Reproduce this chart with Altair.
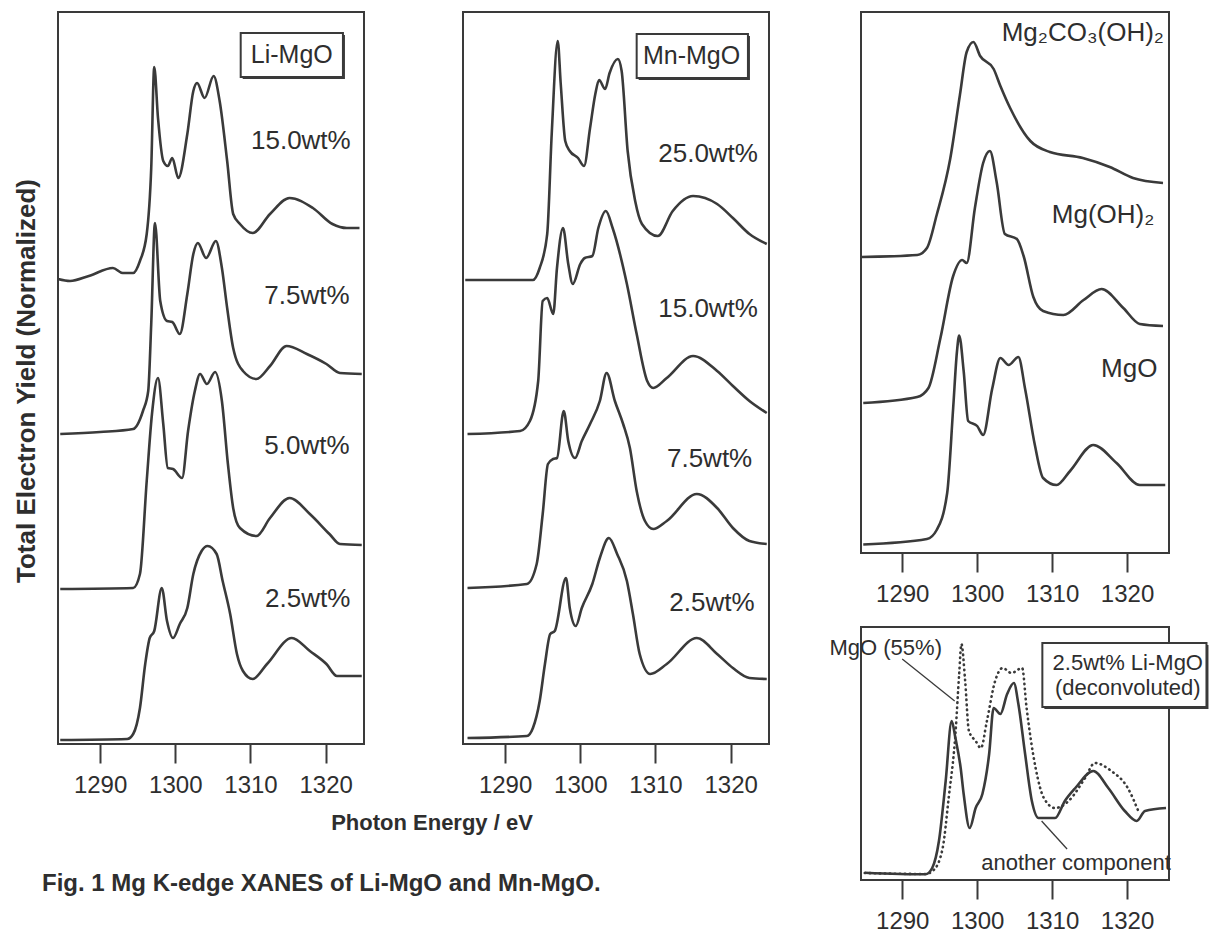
import altair as alt
import pandas as pd

# ---------------- data ----------------
TICKS = [1290, 1300, 1310, 1320]

# Li-MgO panel (intensity in arbitrary units, curves stacked as drawn)
LI150_E = [1284.4, 1286.0, 1288.5, 1291.7, 1293.0, 1294.4, 1295.3, 1296.2, 1296.8, 1297.2, 1297.7, 1298.4, 1299.0, 1299.6, 1300.4, 1301.6, 1302.4, 1302.9, 1303.9, 1305.1, 1305.9, 1306.9, 1307.7, 1308.6, 1310.3, 1312.6, 1315.2, 1318.3, 1320.9, 1322.8, 1324.5]
LI150_I = [4.65, 4.63, 4.68, 4.76, 4.71, 4.71, 4.83, 5.10, 5.76, 6.77, 6.26, 5.83, 5.78, 5.86, 5.66, 6.10, 6.53, 6.61, 6.46, 6.68, 6.43, 5.83, 5.30, 5.20, 5.11, 5.30, 5.46, 5.36, 5.20, 5.16, 5.16]
LI75_E = [1284.7, 1290.0, 1294.4, 1295.7, 1296.4, 1296.8, 1297.3, 1298.0, 1298.9, 1299.6, 1300.6, 1301.6, 1302.4, 1303.0, 1304.1, 1305.4, 1306.2, 1306.9, 1307.7, 1309.0, 1310.8, 1312.6, 1314.8, 1317.5, 1320.1, 1321.9, 1324.8]
LI75_I = [3.10, 3.12, 3.15, 3.33, 3.53, 4.20, 5.21, 4.43, 4.23, 4.22, 4.10, 4.50, 4.90, 5.01, 4.86, 5.03, 4.76, 4.36, 3.96, 3.73, 3.65, 3.78, 3.98, 3.90, 3.80, 3.71, 3.70]
LI50_E = [1284.7, 1294.4, 1295.3, 1296.2, 1296.9, 1297.7, 1298.4, 1299.0, 1299.7, 1300.9, 1301.7, 1302.6, 1303.3, 1304.2, 1305.3, 1306.2, 1307.0, 1307.7, 1308.6, 1310.8, 1312.6, 1315.2, 1317.9, 1320.5, 1321.9, 1324.8]
LI50_I = [1.55, 1.56, 1.70, 2.63, 3.30, 3.66, 3.20, 2.76, 2.75, 2.66, 3.13, 3.53, 3.70, 3.60, 3.72, 3.43, 2.80, 2.36, 2.16, 2.08, 2.26, 2.46, 2.30, 2.10, 2.00, 1.99]
LI25_E = [1284.7, 1293.6, 1294.4, 1295.3, 1296.0, 1296.6, 1297.2, 1298.2, 1298.9, 1299.7, 1300.6, 1301.6, 1302.4, 1303.5, 1304.3, 1305.5, 1306.3, 1307.3, 1308.2, 1309.0, 1310.3, 1312.2, 1315.5, 1317.9, 1320.1, 1321.5, 1324.8]
LI25_I = [0.04, 0.05, 0.10, 0.36, 0.80, 1.06, 1.13, 1.56, 1.23, 1.06, 1.20, 1.36, 1.70, 1.93, 1.98, 1.90, 1.63, 1.30, 0.90, 0.73, 0.65, 0.80, 1.06, 0.93, 0.80, 0.68, 0.68]

# Mn-MgO panel
MN250_E = [1284.7, 1293.7, 1294.6, 1295.6, 1296.2, 1297.0, 1297.4, 1298.0, 1298.6, 1299.7, 1300.5, 1301.3, 1302.0, 1302.5, 1303.3, 1303.9, 1305.0, 1305.5, 1306.3, 1307.3, 1308.2, 1310.3, 1312.3, 1315.0, 1318.2, 1320.3, 1322.5, 1324.8]
MN250_I = [4.64, 4.64, 4.76, 5.10, 6.10, 7.03, 6.60, 6.03, 5.93, 5.86, 5.78, 6.16, 6.50, 6.64, 6.55, 6.71, 6.85, 6.73, 5.93, 5.43, 5.20, 5.08, 5.33, 5.48, 5.40, 5.26, 5.10, 5.00]
MN150_E = [1285.0, 1292.0, 1293.3, 1294.4, 1295.0, 1295.6, 1296.4, 1296.9, 1297.7, 1298.4, 1299.0, 1300.0, 1300.6, 1301.6, 1302.4, 1303.4, 1304.3, 1306.2, 1307.5, 1308.9, 1309.7, 1311.5, 1315.0, 1318.2, 1320.3, 1322.5, 1324.8]
MN150_I = [3.10, 3.13, 3.23, 3.63, 4.43, 4.46, 4.30, 4.76, 5.16, 4.80, 4.60, 4.80, 4.86, 4.88, 5.16, 5.33, 5.16, 4.60, 4.10, 3.63, 3.56, 3.66, 3.88, 3.73, 3.58, 3.43, 3.31]
MN75_E = [1285.0, 1292.9, 1294.2, 1295.0, 1295.7, 1296.4, 1296.9, 1297.8, 1298.4, 1299.3, 1300.2, 1301.3, 1302.6, 1303.5, 1304.6, 1305.7, 1306.6, 1307.5, 1308.6, 1309.7, 1311.5, 1315.5, 1318.2, 1320.3, 1322.5, 1324.8]
MN75_I = [1.56, 1.60, 1.80, 2.30, 2.80, 2.85, 2.86, 3.33, 3.03, 2.86, 3.03, 3.20, 3.43, 3.71, 3.43, 3.20, 2.96, 2.53, 2.23, 2.15, 2.23, 2.50, 2.36, 2.16, 2.03, 2.00]
MN25_E = [1285.0, 1292.9, 1293.7, 1294.6, 1295.3, 1296.0, 1296.6, 1298.1, 1298.6, 1299.4, 1300.2, 1301.6, 1302.6, 1303.8, 1304.9, 1306.2, 1307.0, 1307.9, 1309.3, 1311.5, 1315.5, 1318.2, 1320.3, 1322.5, 1324.8]
MN25_I = [0.06, 0.08, 0.16, 0.43, 0.80, 1.10, 1.13, 1.66, 1.36, 1.18, 1.36, 1.60, 1.86, 2.06, 1.90, 1.63, 1.30, 0.90, 0.70, 0.80, 1.06, 0.90, 0.76, 0.66, 0.65]

# reference compounds
CARB_E = [1284.6, 1292.0, 1293.3, 1294.6, 1296.4, 1297.7, 1298.6, 1299.5, 1300.4, 1302.2, 1303.1, 1304.4, 1307.1, 1309.7, 1314.1, 1317.7, 1320.8, 1324.8]
CARB_I = [2.96, 2.98, 3.05, 3.38, 3.94, 4.58, 5.01, 5.11, 4.97, 4.84, 4.67, 4.45, 4.12, 4.01, 3.95, 3.86, 3.75, 3.70]
HYD_E = [1284.8, 1292.0, 1293.5, 1295.1, 1296.8, 1298.0, 1298.6, 1299.7, 1300.8, 1301.7, 1302.6, 1303.7, 1305.3, 1306.2, 1307.5, 1308.8, 1311.5, 1314.2, 1316.6, 1319.5, 1321.7, 1324.8]
HYD_I = [1.50, 1.56, 1.65, 2.15, 2.77, 2.93, 2.90, 3.45, 3.90, 4.02, 3.71, 3.19, 3.14, 2.97, 2.56, 2.42, 2.38, 2.53, 2.64, 2.45, 2.29, 2.27]
MGO_E = [1284.8, 1293.3, 1294.6, 1296.0, 1296.8, 1297.3, 1297.6, 1298.2, 1298.8, 1300.0, 1300.8, 1302.0, 1303.1, 1304.2, 1305.5, 1306.4, 1307.7, 1308.8, 1310.6, 1312.4, 1315.5, 1318.6, 1321.7, 1325.1]
MGO_I = [0.085, 0.14, 0.23, 0.60, 1.45, 2.01, 2.175, 1.82, 1.32, 1.27, 1.18, 1.64, 1.95, 1.88, 1.96, 1.64, 1.08, 0.75, 0.68, 0.82, 1.08, 0.90, 0.68, 0.68]

# deconvolution of 2.5wt% Li-MgO
COMP_E = [1285.0, 1293.1, 1294.0, 1294.9, 1295.8, 1296.6, 1297.1, 1297.8, 1298.2, 1299.0, 1299.8, 1300.7, 1301.6, 1302.2, 1303.1, 1304.0, 1304.9, 1305.5, 1306.4, 1307.3, 1308.2, 1310.4, 1311.7, 1313.1, 1315.5, 1317.5, 1319.7, 1321.3, 1322.4, 1325.2]
COMP_I = [0.073, 0.057, 0.12, 0.39, 0.99, 1.59, 1.42, 1.12, 0.86, 0.52, 0.72, 0.86, 1.26, 1.72, 1.66, 1.86, 1.97, 1.76, 1.26, 0.79, 0.62, 0.62, 0.79, 0.92, 1.09, 0.92, 0.69, 0.59, 0.69, 0.72]
MGO55_E = [1285.0, 1293.1, 1294.2, 1295.4, 1296.2, 1297.1, 1297.6, 1297.9, 1298.4, 1298.9, 1299.8, 1300.5, 1301.3, 1302.4, 1303.4, 1304.6, 1306.0, 1306.6, 1307.8, 1308.9, 1310.4, 1312.2, 1314.4, 1315.7, 1317.9, 1320.1, 1321.5]
MGO55_I = [0.07, 0.06, 0.10, 0.32, 0.82, 1.46, 2.06, 2.36, 1.99, 1.49, 1.39, 1.32, 1.59, 1.99, 2.12, 2.07, 2.12, 1.72, 1.12, 0.82, 0.72, 0.79, 1.02, 1.17, 1.09, 0.92, 0.69]

# labels
LI_LABELS = ["15.0wt%", "7.5wt%", "5.0wt%", "2.5wt%"]
LI_LABEL_E = [1316.7, 1317.5, 1317.5, 1317.6]
LI_LABEL_I = [6.03, 4.48, 2.98, 1.45]
MN_LABELS = ["25.0wt%", "15.0wt%", "7.5wt%", "2.5wt%"]
MN_LABEL_E = [1317.0, 1317.0, 1317.2, 1317.5]
MN_LABEL_I = [5.90, 4.35, 2.85, 1.41]
REF_LABELS = ["Mg\u2082CO\u2083(OH)\u2082", "Mg(OH)\u2082", "MgO"]
REF_LABEL_E = [1314.1, 1316.8, 1320.3]
REF_LABEL_I = [5.20, 3.38, 1.84]

# ---------------- styling ----------------
LINE = "#3a3a3a"
TXT = "#2e2e2e"
FONT = "Liberation Sans"


def curves(series):
    rows = []
    for name, es, vs in series:
        for e, v in zip(es, vs):
            rows.append({"series": name, "E": e, "I": v})
    return pd.DataFrame(rows)


def enc_x(dom):
    return alt.X("E:Q", scale=alt.Scale(domain=dom, nice=False, zero=False),
                 axis=alt.Axis(values=TICKS, title=None, domain=False, grid=False,
                               tickSize=19, tickWidth=2, tickColor=LINE,
                               labelFontSize=24, labelFont=FONT, labelColor=TXT,
                               labelPadding=10, format="d"))


def enc_y(dom):
    return alt.Y("I:Q", scale=alt.Scale(domain=dom, nice=False, zero=False), axis=None)


def line_layer(df, xd, yd, dash=None):
    kw = dict(color=LINE, strokeWidth=2.6, strokeJoin="round", interpolate="monotone")
    if dash:
        kw.update(strokeDash=dash, strokeCap="round")
    return alt.Chart(df).mark_line(**kw).encode(x=enc_x(xd), y=enc_y(yd), detail="series:N")


def text_layer(labels, es, vs, xd, yd, size=26, align="center"):
    df = pd.DataFrame({"label": labels, "E": es, "I": vs})
    return alt.Chart(df).mark_text(font=FONT, fontSize=size, color=TXT, align=align,
                                   baseline="middle").encode(x=enc_x(xd), y=enc_y(yd), text="label:N")


def box_layers(e1, e2, i1, i2, xd, yd):
    df = pd.DataFrame({"E": [e1], "E2": [e2], "I": [i1], "I2": [i2]})
    shadow = alt.Chart(df).mark_rect(fill=LINE, xOffset=2, yOffset=2, x2Offset=2, y2Offset=2).encode(
        x=enc_x(xd), x2="E2:Q", y=enc_y(yd), y2="I2:Q")
    frame = alt.Chart(df).mark_rect(fill="white", stroke=LINE, strokeWidth=2).encode(
        x=enc_x(xd), x2="E2:Q", y=enc_y(yd), y2="I2:Q")
    return [shadow, frame]


def spacer(w):
    return alt.Chart(pd.DataFrame({"a": [0]})).mark_point(opacity=0).encode(
        x=alt.value(0), y=alt.value(0)).properties(
        width=w, height=10, view=alt.ViewBackground(stroke="transparent"))


XD_LM = [1284.4, 1325.1]
XD_R = [1284.5, 1325.6]
YD_LM = [0, 7.32]
YD_RT = [0, 5.41]
YD_RB = [0, 2.53]

# ---- Li-MgO panel
li_df = curves([("15.0", LI150_E, LI150_I), ("7.5", LI75_E, LI75_I),
                ("5.0", LI50_E, LI50_I), ("2.5", LI25_E, LI25_I)])
ytitle = alt.Chart(pd.DataFrame({"t": ["Total Electron Yield (Normalized)"]})).mark_text(
    angle=270, font=FONT, fontSize=26, fontWeight="bold", color=TXT,
    baseline="middle", align="center").encode(x=alt.value(-31), y=alt.value(369), text="t:N")
xtitle = alt.Chart(pd.DataFrame({"t": ["Photon Energy / eV"]})).mark_text(
    font=FONT, fontSize=22, fontWeight="bold", color=TXT, align="center", baseline="middle").encode(
    x=alt.value(374), y=alt.value(811), text="t:N")
caption = alt.Chart(pd.DataFrame({"t": ["Fig. 1  Mg K-edge XANES of Li-MgO and Mn-MgO."]})).mark_text(
    font=FONT, fontSize=24, fontWeight="bold", color=TXT, align="left", baseline="middle").encode(
    x=alt.value(-16), y=alt.value(872), text="t:N")

left = alt.layer(
    line_layer(li_df, XD_LM, YD_LM),
    text_layer(LI_LABELS, LI_LABEL_E, LI_LABEL_I, XD_LM, YD_LM),
    *box_layers(1308.7, 1322.3, 6.67, 7.11, XD_LM, YD_LM),
    text_layer(["Li-MgO"], [1315.5], [6.89], XD_LM, YD_LM, size=25),
    ytitle, xtitle, caption,
).properties(width=306, height=732)

# ---- Mn-MgO panel
mn_df = curves([("25.0", MN250_E, MN250_I), ("15.0", MN150_E, MN150_I),
                ("7.5", MN75_E, MN75_I), ("2.5", MN25_E, MN25_I)])
middle = alt.layer(
    line_layer(mn_df, XD_LM, YD_LM),
    text_layer(MN_LABELS, MN_LABEL_E, MN_LABEL_I, XD_LM, YD_LM),
    *box_layers(1307.5, 1322.3, 6.66, 7.10, XD_LM, YD_LM),
    text_layer(["Mn-MgO"], [1314.8], [6.88], XD_LM, YD_LM, size=25),
).properties(width=306, height=732)

# ---- reference compounds
ref_df = curves([("carb", CARB_E, CARB_I), ("hyd", HYD_E, HYD_I), ("mgo", MGO_E, MGO_I)])
rtop = alt.layer(
    line_layer(ref_df, XD_R, YD_RT),
    text_layer(REF_LABELS, REF_LABEL_E, REF_LABEL_I, XD_R, YD_RT),
).properties(width=308, height=541)

# ---- deconvolution
comp_df = curves([("comp", COMP_E, COMP_I)])
mgo55_df = curves([("mgo55", MGO55_E, MGO55_I)])
lead_df = pd.DataFrame({"E": [1290.0, 1308.6], "E2": [1297.0, 1312.0], "I": [2.21, 0.59], "I2": [1.79, 0.31]})
leaders = alt.Chart(lead_df).mark_rule(color=LINE, strokeWidth=1.3).encode(
    x=enc_x(XD_R), x2="E2:Q", y=enc_y(YD_RB), y2="I2:Q")
rbot = alt.layer(
    line_layer(mgo55_df, XD_R, YD_RB, dash=[0.5, 4.5]),
    line_layer(comp_df, XD_R, YD_RB),
    leaders,
    text_layer(["MgO (55%)"], [1287.8], [2.32], XD_R, YD_RB, size=22),
    text_layer(["another component"], [1313.2], [0.17], XD_R, YD_RB, size=22),
    *box_layers(1308.7, 1330.6, 1.73, 2.37, XD_R, YD_RB),
    text_layer(["2.5wt% Li-MgO", "(deconvoluted)"], [1320.1, 1320.1], [2.17, 1.92], XD_R, YD_RB, size=22),
).properties(width=308, height=253)

right = alt.vconcat(rtop, rbot, spacing=74, bounds="flush")
chart = alt.hconcat(left, spacer(99), middle, spacer(92), right, spacing=0, bounds="flush").properties(
    padding={"left": 12, "top": 8, "right": 0, "bottom": 0},
    background="white",
).configure_view(stroke=LINE, strokeWidth=2)

chart.save("out.html", embed_options={"renderer": "svg", "actions": False})
